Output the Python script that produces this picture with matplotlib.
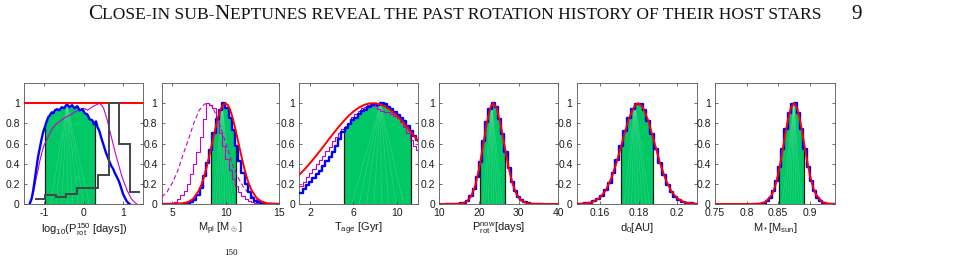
import numpy as np
import matplotlib
matplotlib.use("Agg")
import matplotlib.pyplot as plt

plt.rcParams["font.family"] = ["Liberation Sans", "DejaVu Sans"]
plt.rcParams["mathtext.fontset"] = "custom"
plt.rcParams["mathtext.rm"] = "Liberation Sans"
plt.rcParams["mathtext.it"] = "Liberation Sans:italic"

GREEN = "#00c864"
BLUE = "#0000ff"
RED = "#ff0000"
MAGENTA = "#c800c8"
DARK = "#454545"

# ---- panel 1: log10(P_rot^150) ----
p1_blue_x = [-1.36, -1.31, -1.27, -1.23, -1.19, -1.15, -1.10, -1.06, -1.02, -0.97,
             -0.93, -0.89, -0.85, -0.80, -0.76, -0.72, -0.67, -0.61, -0.55, -0.49,
             -0.42, -0.36, -0.29, -0.23, -0.16, -0.10, -0.03, 0.03, 0.09, 0.15,
             0.22, 0.26, 0.31, 0.35, 0.39, 0.44, 0.48, 0.52, 0.56, 0.61,
             0.65, 0.69, 0.74, 0.78, 0.82, 0.87, 0.91, 0.95, 0.99, 1.04,
             1.08, 1.12, 1.16]
p1_blue_y = [0.0, 0.05, 0.13, 0.24, 0.35, 0.46, 0.56, 0.64, 0.71, 0.77,
             0.82, 0.86, 0.88, 0.91, 0.90, 0.93, 0.94, 0.93, 0.96, 0.95,
             0.99, 0.96, 0.98, 0.95, 0.97, 0.93, 0.94, 0.90, 0.89, 0.84,
             0.83, 0.79, 0.82, 0.76, 0.73, 0.66, 0.61, 0.56, 0.51, 0.46,
             0.42, 0.38, 0.35, 0.31, 0.28, 0.24, 0.20, 0.15, 0.10, 0.06,
             0.03, 0.01, 0.0]
p1_mag_x = [-1.36, -1.30, -1.25, -1.20, -1.15, -1.10, -1.05, -1.00,
            -0.90, -0.80, -0.70, -0.60, -0.50, -0.40, -0.30, -0.20, -0.10, 0.00, 0.10, 0.20, 0.30,
            0.35, 0.40, 0.45, 0.50, 0.55, 0.60, 0.65, 0.70, 0.75, 0.80,
            0.85, 0.90, 0.95, 1.00, 1.05, 1.10, 1.15, 1.20, 1.25, 1.30, 1.34]
p1_mag_y = [0.0, 0.06, 0.14, 0.24, 0.33, 0.43, 0.51, 0.58,
            0.66, 0.74, 0.79, 0.82, 0.85, 0.87, 0.89, 0.92, 0.93, 0.95, 0.93, 0.96, 0.98,
            0.99, 1.00, 0.98, 0.95, 0.89, 0.82, 0.74, 0.66, 0.58, 0.50,
            0.43, 0.36, 0.29, 0.23, 0.18, 0.13, 0.09, 0.05, 0.03, 0.01, 0.0]
p1_obs_edges = [-1.23, -0.965, -0.70, -0.435, -0.17, 0.095, 0.36, 0.625, 0.89, 1.155, 1.42]
p1_obs_vals = [0.046, 0.088, 0.065, 0.095, 0.163, 0.163, 0.284, 1.0, 0.6, 0.118]
p1_prior_x = [-1.5, 1.5]
p1_prior_y = [1.0, 1.0]
p1_ci = (-0.97, 0.28)

# ---- panel 2: M_pl ----
p2_edges = np.linspace(3.95, 15.05, 38)
p2_blue = [0, 0, 0, 0, 0, 0, 0, 0.005, 0.01, 0.02,
           0.04, 0.09, 0.16, 0.28, 0.41, 0.54, 0.70, 0.84, 0.93, 1.0,
           0.95, 0.85, 0.73, 0.58, 0.43, 0.31, 0.20, 0.12, 0.06, 0.03,
           0.015, 0.005, 0, 0, 0, 0, 0]
p2_mag = [0, 0, 0.005, 0.01, 0.02, 0.05, 0.09, 0.13, 0.20, 0.30,
          0.40, 0.52, 0.66, 0.84, 1.0, 0.98, 0.95, 0.83, 0.70, 0.58,
          0.45, 0.34, 0.25, 0.18, 0.12, 0.08, 0.05, 0.03, 0.02, 0.01,
          0.005, 0, 0, 0, 0, 0, 0]
p2_dash_x = [4.0, 4.5, 5.0, 5.5, 6.0, 6.5, 7.0, 7.5, 8.0, 8.3, 8.7, 9.2, 9.7,
             10.2, 10.7, 11.2, 11.7, 12.2, 12.7, 13.2, 13.7, 14.5]
p2_dash_y = [0.07, 0.12, 0.21, 0.33, 0.49, 0.64, 0.80, 0.93, 0.99, 1.0, 0.97, 0.86, 0.70,
             0.53, 0.37, 0.25, 0.16, 0.10, 0.06, 0.03, 0.015, 0.0]
p2_red_x = [4.0, 5.0, 6.0, 6.5, 7.0, 7.5, 7.75, 8.0, 8.25, 8.5, 8.75, 9.0, 9.25, 9.5, 9.7,
            9.95, 10.2, 10.4, 10.65, 10.9, 11.15, 11.4, 11.65, 11.9, 12.15, 12.4,
            12.9, 13.4, 13.9, 15.0]
p2_red_y = [0.0, 0.0005, 0.006, 0.02, 0.057, 0.138, 0.2, 0.285, 0.385, 0.5, 0.62, 0.74, 0.85, 0.935, 0.98,
            1.0, 0.98, 0.935, 0.85, 0.74, 0.62, 0.5, 0.385, 0.285, 0.2, 0.138,
            0.057, 0.02, 0.006, 0.0]
p2_ci = (8.58, 10.95)

# ---- panel 3: T_age ----
p3_edges = np.linspace(1.0, 12.1, 38)
p3_blue = [0.11, 0.15, 0.19, 0.22, 0.26, 0.30, 0.33, 0.38, 0.43, 0.47,
           0.52, 0.58, 0.64, 0.71, 0.75, 0.79, 0.83, 0.85, 0.89, 0.92,
           0.93, 0.96, 0.98, 0.99, 0.98, 1.0, 0.99, 0.96, 0.94, 0.91,
           0.88, 0.85, 0.82, 0.77, 0.72, 0.67, 0.63]
p3_mag = [0.18, 0.22, 0.27, 0.31, 0.35, 0.40, 0.44, 0.48, 0.53, 0.57,
          0.62, 0.66, 0.70, 0.74, 0.77, 0.80, 0.86, 0.89, 0.92, 0.95,
          0.96, 0.98, 1.0, 0.97, 0.94, 0.92, 0.91, 0.91, 0.89, 0.87,
          0.85, 0.81, 0.76, 0.70, 0.63, 0.58, 0.54]
p3_red_x = [1.0, 1.5, 2.0, 2.5, 3.0, 3.5, 4.0, 4.5, 5.0, 5.5, 6.0, 6.5, 7.0, 7.5,
            8.0, 8.5, 9.0, 9.5, 10.0, 10.5, 11.0, 11.5, 12.0]
p3_red_y = [0.29, 0.345, 0.406, 0.471, 0.539, 0.609, 0.679, 0.747, 0.81, 0.868, 0.917, 0.956, 0.983, 0.998,
            0.999, 0.987, 0.962, 0.925, 0.878, 0.822, 0.76, 0.693, 0.62]
p3_ci = (5.16, 11.32)

# ---- panel 4: P_rot^now ----
p4_edges = np.linspace(12.0, 36.0, 31)
p4_blue = [0, 0.0002, 0.0005, 0.002, 0.005, 0.013, 0.034, 0.075, 0.15, 0.27,
           0.42, 0.62, 0.81, 0.94, 1.0, 0.96, 0.84, 0.69, 0.52, 0.36,
           0.22, 0.13, 0.07, 0.035, 0.016, 0.007, 0.003, 0.001, 0, 0]
p4_red_x = [10, 14, 15, 16, 17, 18, 19, 20, 21, 22, 23, 23.6, 24.5, 25.5, 26.5,
            27.5, 28.5, 29.5, 30.5, 31.5, 32.5, 34, 40]
p4_red_y = [0, 0.0005, 0.002, 0.0085, 0.027, 0.075, 0.174, 0.343, 0.572, 0.81, 0.97, 1.0, 0.947, 0.78, 0.567,
            0.358, 0.197, 0.095, 0.04, 0.015, 0.005, 0.001, 0]
p4_ci = (20.26, 26.57)

# ---- panel 5: d_0 ----
p5_edges = np.linspace(0.148, 0.210, 32)
p5_blue = [0.0012, 0.0028, 0.006, 0.013, 0.025, 0.046, 0.081, 0.135, 0.21, 0.31,
           0.437, 0.58, 0.72, 0.85, 0.946, 0.995, 0.99, 0.93, 0.825, 0.69,
           0.55, 0.41, 0.29, 0.19, 0.122, 0.073, 0.041, 0.022, 0.011, 0.005,
           0.0024]
p5_red_x = [0.148, 0.152, 0.156, 0.160, 0.163, 0.166, 0.169, 0.172, 0.175, 0.178, 0.1798,
            0.182, 0.185, 0.188, 0.191, 0.194, 0.197, 0.200, 0.203, 0.206, 0.210]
p5_red_y = [0.0008, 0.004, 0.018, 0.062, 0.135, 0.26, 0.437, 0.65, 0.85, 0.977, 1.0,
            0.966, 0.825, 0.62, 0.41, 0.24, 0.122, 0.055, 0.022, 0.0077, 0.0015]
p5_ci = (0.1707, 0.1876)

# ---- panel 6: M_* ----
p6_edges = np.linspace(0.810, 0.940, 27)
p6_blue = [0.0005, 0.0016, 0.0046, 0.012, 0.029, 0.064, 0.127, 0.23, 0.37, 0.55,
           0.74, 0.90, 0.988, 1.0, 0.90, 0.74, 0.55, 0.37, 0.23, 0.127,
           0.064, 0.029, 0.012, 0.0046, 0.0016, 0.0005]
p6_red_x = [0.75, 0.78, 0.80, 0.81, 0.82, 0.83, 0.84, 0.845, 0.85, 0.855, 0.86, 0.865, 0.87,
            0.875, 0.88, 0.885, 0.89, 0.895, 0.90, 0.905, 0.91, 0.92, 0.93, 0.94]
p6_red_y = [0, 0, 0.00002, 0.0003, 0.0027, 0.019, 0.092, 0.17, 0.295, 0.458, 0.644, 0.82, 0.952,
            1.0, 0.952, 0.82, 0.644, 0.458, 0.295, 0.17, 0.092, 0.019, 0.0027, 0.0003]
p6_ci = (0.852, 0.891)

XLABELS = [r"log$_{10}$(P$^{150}_{\rm rot}$ [days])", r"M$_{\rm pl}$ [M$_\oplus$]",
           r"T$_{\rm age}$ [Gyr]", r"P$^{\rm now}_{\rm rot}$[days]", r"d$_0$[AU]",
           r"M$_*$[M$_{\rm sun}$]"]
XLIMS = [(-1.5, 1.5), (4, 15), (1, 12), (10, 40), (0.148, 0.21), (0.75, 0.94)]
XTICKS = [[-1, 0, 1], [5, 10, 15], [2, 6, 10], [10, 20, 30, 40], [0.16, 0.18, 0.2],
          [0.75, 0.8, 0.85, 0.9]]
XTICKLABELS = [["-1", "0", "1"], ["5", "10", "15"], ["2", "6", "10"], ["10", "20", "30", "40"],
               ["0.16", "0.18", "0.2"], ["0.75", "0.8", "0.85", "0.9"]]
YTICKS = [0, 0.2, 0.4, 0.6, 0.8, 1]
YTICKLABELS = ["0", "0.2", "0.4", "0.6", "0.8", "1"]


def stairs_xy(edges, vals):
    edges = np.asarray(edges, dtype=float)
    x = np.repeat(edges, 2)[1:-1]
    y = np.repeat(np.asarray(vals, dtype=float), 2)
    return x, y


def draw_ci(ax, x, y, lo, hi):
    x = np.asarray(x, dtype=float)
    y = np.asarray(y, dtype=float)
    ylo = np.interp(lo, x, y)
    yhi = np.interp(hi, x, y)
    inside = (x > lo) & (x < hi)
    fx = np.r_[lo, x[inside], hi]
    fy = np.r_[ylo, y[inside], yhi]
    ax.fill_between(fx, 0, fy, color=GREEN, lw=0, zorder=1)
    # faint triangulation seams like the original patch rendering
    k = np.argmax(fy)
    for xb in np.linspace(lo, hi, 10)[1:-1]:
        ax.plot([fx[k], xb], [fy[k], 0], color="white", lw=0.4, alpha=0.22, zorder=1.5)
    ax.vlines([lo, hi], 0, [ylo, yhi], color="#1a1a1a", lw=0.9, zorder=2)


W, H = 955, 261
fig = plt.figure(figsize=(W / 100, H / 100), dpi=100)
boxes = [(24, 143.3), (161.7, 279.3), (299.3, 418.3), (439.3, 558.3), (576.7, 696.7), (715, 835)]
axes = []
for (left, right) in boxes:
    ax = fig.add_axes([left / W, (H - 204) / H, (right - left) / W, 121 / H])
    axes.append(ax)

# panel 1
ax = axes[0]
draw_ci(ax, p1_blue_x, p1_blue_y, *p1_ci)
ax.plot(p1_mag_x, p1_mag_y, color=MAGENTA, lw=0.8, zorder=3)
ax.plot(p1_blue_x, p1_blue_y, color=BLUE, lw=1.7, zorder=4)
ax.stairs(p1_obs_vals, p1_obs_edges, baseline=None, color=DARK, lw=1.4, zorder=6)
ax.plot(p1_prior_x, p1_prior_y, color=RED, lw=1.4, zorder=5)

# panel 2
ax = axes[1]
bx, by = stairs_xy(p2_edges, p2_blue)
mx, my = stairs_xy(p2_edges, p2_mag)
draw_ci(ax, bx, by, *p2_ci)
ax.plot(p2_dash_x, p2_dash_y, color=MAGENTA, lw=0.8, ls=(0, (4, 2.5)), zorder=3)
ax.plot(mx, my, color=MAGENTA, lw=0.8, zorder=3)
ax.plot(bx, by, color=BLUE, lw=1.7, zorder=4)
ax.plot(p2_red_x, p2_red_y, color=RED, lw=1.4, zorder=5)

# panel 3
ax = axes[2]
bx, by = stairs_xy(p3_edges, p3_blue)
mx, my = stairs_xy(p3_edges, p3_mag)
draw_ci(ax, bx, by, *p3_ci)
ax.plot(mx, my, color=MAGENTA, lw=0.8, zorder=3)
ax.plot(bx, by, color=BLUE, lw=1.7, zorder=4)
ax.plot(p3_red_x, p3_red_y, color=RED, lw=1.4, zorder=5)

# panels 4-6
for ax, edges, vals, rx, ry, ci in [
    (axes[3], p4_edges, p4_blue, p4_red_x, p4_red_y, p4_ci),
    (axes[4], p5_edges, p5_blue, p5_red_x, p5_red_y, p5_ci),
    (axes[5], p6_edges, p6_blue, p6_red_x, p6_red_y, p6_ci),
]:
    bx, by = stairs_xy(edges, vals)
    draw_ci(ax, bx, by, *ci)
    ax.plot(bx, by, color=BLUE, lw=1.7, zorder=4)
    ax.plot(rx, ry, color=RED, lw=1.4, zorder=5)

for i, ax in enumerate(axes):
    ax.set_xlim(*XLIMS[i])
    ax.set_ylim(0, 1.2)
    ax.set_xticks(XTICKS[i])
    ax.set_xticklabels(XTICKLABELS[i])
    ax.set_yticks(YTICKS)
    ax.set_yticklabels(YTICKLABELS)
    ax.tick_params(direction="in", top=True, right=True, length=2.5, width=0.5,
                   labelsize=7.5, pad=3, color="#333333", labelcolor="#1a1a1a")
    for sp in ax.spines.values():
        sp.set_color("#555555")
        sp.set_linewidth(0.6)
    ax.set_xlabel(XLABELS[i], fontsize=8, labelpad=2, color="#1a1a1a")

# running header in small caps
renderer = fig.canvas.get_renderer()
pieces = [("C", 15.2), ("LOSE-IN SUB-", 12.6), ("N", 15.2),
          ("EPTUNES REVEAL THE PAST ROTATION HISTORY OF THEIR HOST STARS", 12.6)]
x = 88 / W
for text, size in pieces:
    t = fig.text(x, 1 - 19 / H, text, fontsize=size, family="Liberation Serif",
                 ha="left", va="baseline", color="#111111")
    x += t.get_window_extent(renderer).width / W
fig.text(857 / W, 1 - 19 / H, "9", fontsize=15.2, family="Liberation Serif",
         ha="center", va="baseline", color="#111111")
fig.text(231 / W, 1 - 253 / H, "150", fontsize=6.5, family="Liberation Serif",
         ha="center", va="center", color="#111111")

fig.savefig("out.png", dpi=100)
